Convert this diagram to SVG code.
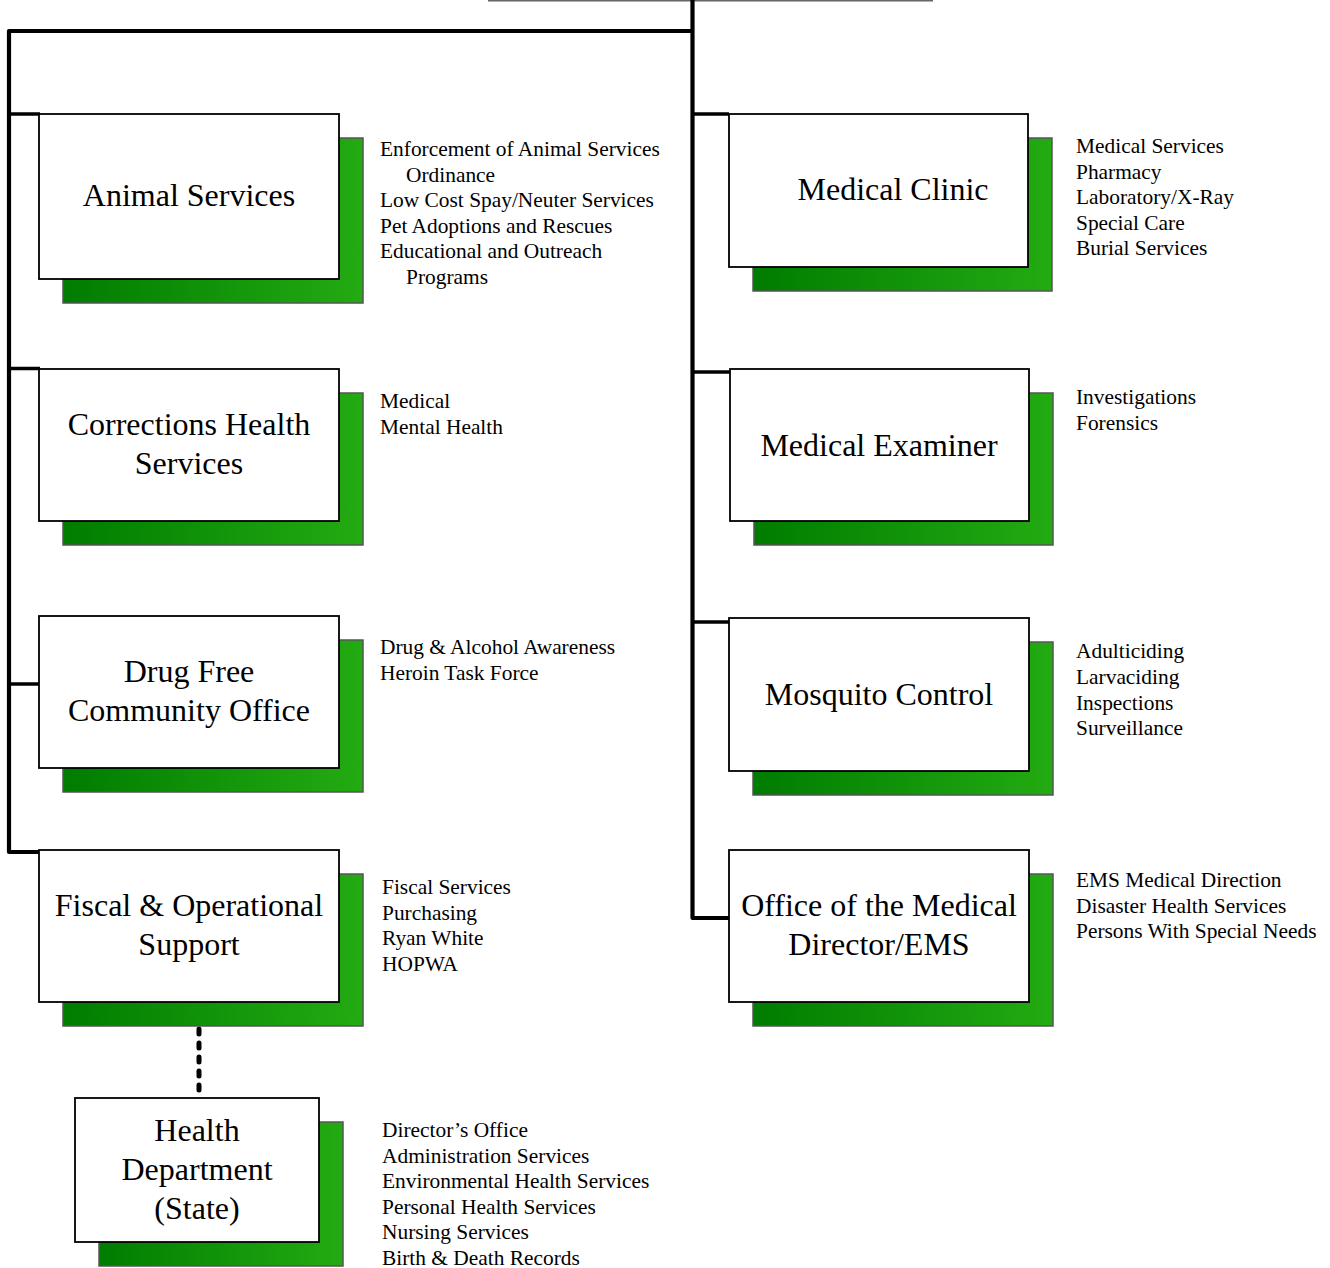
<svg xmlns="http://www.w3.org/2000/svg" width="1330" height="1268" viewBox="0 0 1330 1268">
<defs>
<linearGradient id="g" x1="0" y1="0" x2="1" y2="0">
<stop offset="0" stop-color="#007c00"/>
<stop offset="1" stop-color="#23ab12"/>
</linearGradient>
</defs>
<style>
.sh{fill:url(#g);stroke:#555;stroke-width:1.5}
.bx{fill:#fff;stroke:#000;stroke-width:1.8}
.t{font-family:"Liberation Serif","Times New Roman",serif;font-size:32px;fill:#000;text-anchor:middle}
.s{font-family:"Liberation Serif","Times New Roman",serif;font-size:21.4px;fill:#000}
.ln{fill:none;stroke:#000;stroke-width:4.2;stroke-linejoin:round}
.st{fill:none;stroke:#000;stroke-width:3.5}
</style>
<rect width="1330" height="1268" fill="#fff"/>
<g id="connectors">
<line x1="488" y1="0.5" x2="933" y2="0.5" stroke="#666" stroke-width="2"/>
<polyline class="ln" points="40,852 9,852 9,31 692.5,31"/>
<polyline class="ln" points="692.5,0 692.5,918 729,918"/>
<line class="st" x1="9" y1="114" x2="40" y2="114"/>
<line class="st" x1="9" y1="368.5" x2="40" y2="368.5"/>
<line class="st" x1="9" y1="684" x2="40" y2="684"/>
<line class="st" x1="692.5" y1="114" x2="729" y2="114"/>
<line class="st" x1="692.5" y1="372" x2="730" y2="372"/>
<line class="st" x1="692.5" y1="622" x2="729" y2="622"/>
<line x1="199" y1="1029" x2="199" y2="1096" stroke="#000" stroke-width="5" stroke-linecap="round" stroke-dasharray="5 9"/>
</g>
<g id="animal-services">
<rect class="sh" x="63" y="138" width="300" height="165"/>
<rect class="bx" x="39" y="114" width="300" height="165"/>
<text class="t" x="189" y="206">Animal Services</text>
<text class="s" x="380" y="156">Enforcement of Animal Services</text>
<text class="s" x="406" y="181.5">Ordinance</text>
<text class="s" x="380" y="207">Low Cost Spay/Neuter Services</text>
<text class="s" x="380" y="232.5">Pet Adoptions and Rescues</text>
<text class="s" x="380" y="258">Educational and Outreach</text>
<text class="s" x="406" y="283.5">Programs</text>
</g>
<g id="corrections-health">
<rect class="sh" x="63" y="393" width="300" height="152"/>
<rect class="bx" x="39" y="369" width="300" height="152"/>
<text class="t" x="189" y="435">Corrections Health</text>
<text class="t" x="189" y="474">Services</text>
<text class="s" x="380" y="408">Medical</text>
<text class="s" x="380" y="433.5">Mental Health</text>
</g>
<g id="drug-free">
<rect class="sh" x="63" y="640" width="300" height="152"/>
<rect class="bx" x="39" y="616" width="300" height="152"/>
<text class="t" x="189" y="682">Drug Free</text>
<text class="t" x="189" y="721">Community Office</text>
<text class="s" x="380" y="654">Drug &amp; Alcohol Awareness</text>
<text class="s" x="380" y="680">Heroin Task Force</text>
</g>
<g id="fiscal">
<rect class="sh" x="63" y="874" width="300" height="152"/>
<rect class="bx" x="39" y="850" width="300" height="152"/>
<text class="t" x="189" y="916">Fiscal &amp; Operational</text>
<text class="t" x="189" y="955">Support</text>
<text class="s" x="382" y="894">Fiscal Services</text>
<text class="s" x="382" y="919.5">Purchasing</text>
<text class="s" x="382" y="945">Ryan White</text>
<text class="s" x="382" y="970.5">HOPWA</text>
</g>
<g id="health-department">
<rect class="sh" x="99" y="1122" width="244" height="144"/>
<rect class="bx" x="75" y="1098" width="244" height="144"/>
<text class="t" x="197" y="1141">Health</text>
<text class="t" x="197" y="1180">Department</text>
<text class="t" x="197" y="1219">(State)</text>
<text class="s" x="382" y="1137">Director’s Office</text>
<text class="s" x="382" y="1162.5">Administration Services</text>
<text class="s" x="382" y="1188">Environmental Health Services</text>
<text class="s" x="382" y="1213.5">Personal Health Services</text>
<text class="s" x="382" y="1239">Nursing Services</text>
<text class="s" x="382" y="1264.5">Birth &amp; Death Records</text>
</g>
<g id="medical-clinic">
<rect class="sh" x="753" y="138" width="299" height="153"/>
<rect class="bx" x="729" y="114" width="299" height="153"/>
<text class="t" x="893" y="200">Medical Clinic</text>
<text class="s" x="1076" y="153">Medical Services</text>
<text class="s" x="1076" y="178.5">Pharmacy</text>
<text class="s" x="1076" y="204">Laboratory/X-Ray</text>
<text class="s" x="1076" y="229.5">Special Care</text>
<text class="s" x="1076" y="255">Burial Services</text>
</g>
<g id="medical-examiner">
<rect class="sh" x="754" y="393" width="299" height="152"/>
<rect class="bx" x="730" y="369" width="299" height="152"/>
<text class="t" x="879" y="456">Medical Examiner</text>
<text class="s" x="1076" y="404">Investigations</text>
<text class="s" x="1076" y="430">Forensics</text>
</g>
<g id="mosquito-control">
<rect class="sh" x="753" y="642" width="300" height="153"/>
<rect class="bx" x="729" y="618" width="300" height="153"/>
<text class="t" x="879" y="705">Mosquito Control</text>
<text class="s" x="1076" y="658">Adulticiding</text>
<text class="s" x="1076" y="684">Larvaciding</text>
<text class="s" x="1076" y="709.5">Inspections</text>
<text class="s" x="1076" y="735">Surveillance</text>
</g>
<g id="medical-director-ems">
<rect class="sh" x="753" y="874" width="300" height="152"/>
<rect class="bx" x="729" y="850" width="300" height="152"/>
<text class="t" x="879" y="916">Office of the Medical</text>
<text class="t" x="879" y="954.5">Director/EMS</text>
<text class="s" x="1076" y="887">EMS Medical Direction</text>
<text class="s" x="1076" y="912.5">Disaster Health Services</text>
<text class="s" x="1076" y="938">Persons With Special Needs</text>
</g>
</svg>
